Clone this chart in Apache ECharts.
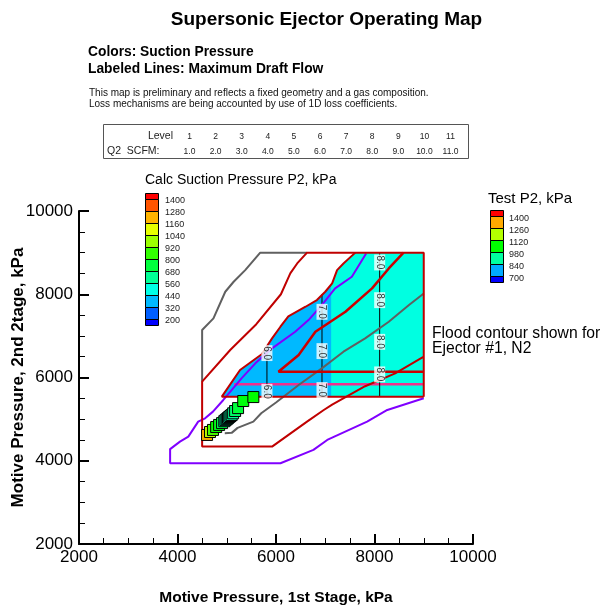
<!DOCTYPE html>
<html><head><meta charset="utf-8">
<script src="https://cdn.jsdelivr.net/npm/echarts@6/dist/echarts.min.js"></script>
<style>html,body{margin:0;padding:0;background:#fff}#c{width:602px;height:609px}</style>
</head><body><div id="c"></div>
<script>
// ---------------- DATA ----------------
// Calc suction pressure filled region (left edge from bottom-left corner to top)
const fillLeftEdge = [[4900,5540],[5270,6180],[5710,6560],[5920,6940],[6090,7220],[6250,7470],[6600,7700],[6830,7860],[7000,8060],[7140,8260],[7240,8580],[7370,8740],[7610,9000]];
const fillTopRight = [9000,9000];
const fillBottomRight = [9000,5540];
const bandSplitX = 7120; // 320-440 band (blue) left of it, 440-560 band (cyan) right

// Red boundary lines
const redOuter = [[9000,6500],[8420,6100],[7810,5790],[7140,5350],[6970,5220],[6630,4940],[5920,4340],[4500,4340],[4500,5900],[5070,6660],[5600,7280],[6100,8000],[6290,8500],[6430,8740],[6630,9000],[9000,9000],[9000,5540]];
const redInner = [[9000,6140],[6050,6140],[6460,6540],[6800,7100],[7410,7580],[7950,8140],[8290,8620],[8590,9000]];
const redFillBottom = [[9000,5540],[4900,5540]];

// Gray lines
const grayOuter = [[6630,9000],[5680,9000],[5375,8580],[5140,8300],[4970,8060],[4730,7420],[4500,7140],[4500,5900]];
const grayInner = [[4960,4660],[5100,4670],[5220,4790],[5540,4940],[5700,5140],[6000,5400],[6460,5820],[6930,6220],[7370,6620],[7810,6940],[8290,7340],[8700,7740],[9000,8020]];

// Purple flood contour
const purpleFlood = [[9000,5500],[8260,5220],[7850,4940],[7040,4500],[6760,4260],[6090,3940],[3850,3940],[3850,4280],[4050,4460],[4220,4580],[4420,4940],[4560,5020],[4720,5180],[4930,5460],[5000,5560],[5300,5980],[5580,6340],[5920,6700],[6390,7100],[6660,7380],[6930,7740],[7200,8140],[7540,8420],[7830,8980]];

// Pink line
const pinkLine = [[5150,5835],[9000,5835]];

// Maximum draft flow contour lines (labeled)
const draft6 = [[5816,5540],[5816,6700]];
const draft7 = [[6934,5540],[6934,8000]];
const draft8 = [[8105,5540],[8105,9000]];
const draftLabels = [[5816,5657,'6.0'],[5816,6586,'6.0'],[6934,5698,'7.0'],[6934,6634,'7.0'],[6934,7578,'7.0'],[8105,6075,'8.0'],[8105,6857,'8.0'],[8105,7858,'8.0'],[8105,8764,'8.0']];

// Test points
const testX  = [4600,4660,4720,4785,4845,4905,4950,4975,5000,5025,5050,5075,5100,5130,5170,5230,5335,5540];
const testY  = [4620,4690,4740,4810,4860,4905,4950,4975,5000,5025,5050,5075,5100,5140,5195,5265,5435,5530];
const testP2 = [1320,1200,1110,1060,1030,980,900,890,880,880,890,900,910,920,960,1000,1040,1050];

// Legends
const calcLevels = [1400,1280,1160,1040,920,800,680,560,440,320,200];
const calcColors = ['#ff0000','#ff5500','#ffb400','#e6ff00','#9bff00','#32ff00','#00ff3c','#00ff96','#00ffe6','#00b9ff','#005fff','#0000ff'];
const testLevels = [1400,1260,1120,980,840,700];
const testColors = ['#ff0000','#ffaa00','#b4ff00','#00ff00','#00ffa0','#00aaff','#0000ff'];
const testStops = [630,770,910,1050,1190,1330,1470];

// Level table
const levelNums = [1,2,3,4,5,6,7,8,9,10,11];
const q2Scfm = [1.0,2.0,3.0,4.0,5.0,6.0,7.0,8.0,9.0,10.0,11.0];

// ---------------- HELPERS ----------------
const FONT = 'Liberation Sans, Arial, sans-serif';
function hex(c){return [parseInt(c.substr(1,2),16),parseInt(c.substr(3,2),16),parseInt(c.substr(5,2),16)];}
function colorFor(v){
  const cols = testColors.slice().reverse();
  if (v <= testStops[0]) return cols[0];
  for (let i=0;i<testStops.length-1;i++){
    if (v <= testStops[i+1]){
      const t=(v-testStops[i])/(testStops[i+1]-testStops[i]);
      const a=hex(cols[i]), b=hex(cols[i+1]);
      return 'rgb('+a.map((x,k)=>Math.round(x+(b[k]-x)*t)).join(',')+')';
    }
  }
  return cols[cols.length-1];
}
function polySeries(points, color, z){
  return {type:'custom', coordinateSystem:'cartesian2d', silent:true, z:z, animation:false,
    data: points,
    renderItem: function(params, api){
      if (params.dataIndex !== 0) return null;
      return {type:'polygon', shape:{points: points.map(p=>api.coord(p))}, style:{fill:color, stroke:null}};
    }};
}
function lineSeries(data, color, width, z){
  return {type:'line', data:data, symbol:'none', showSymbol:false, silent:true, animation:false, z:z,
    lineStyle:{color:color, width:width}};
}

const fillPoly = fillLeftEdge.concat([fillTopRight, fillBottomRight]);
// blue band polygon: clip left edge at bandSplitX
const bluePoly = [];
for (let i=0;i<fillLeftEdge.length;i++){
  const p=fillLeftEdge[i];
  if (p[0] <= bandSplitX) bluePoly.push(p);
  else { const q=fillLeftEdge[i-1]; const t=(bandSplitX-q[0])/(p[0]-q[0]); bluePoly.push([bandSplitX, q[1]+t*(p[1]-q[1])]); break; }
}
bluePoly.push([bandSplitX, fillLeftEdge[0][1]]);
const redFillEdge = redFillBottom.concat(fillLeftEdge.slice(1));

// ---------------- GRAPHICS ----------------
const g = [];
function txt(x,y,text,font,align,valign,fill){
  g.push({type:'text', x:x, y:y, silent:true, style:{text:text, font:font, fill:fill||'#000', align:align||'left', verticalAlign:valign||'middle'}});
}
txt(326.5,20,'Supersonic Ejector Operating Map','bold 19px '+FONT,'center');
txt(88,52,'Colors: Suction Pressure','bold 13.8px '+FONT);
txt(88,69,'Labeled Lines: Maximum Draft Flow','bold 13.8px '+FONT);
txt(89,93,'This map is preliminary and reflects a fixed geometry and a gas composition.','10px '+FONT,'left','middle','#111');
txt(89,104,'Loss mechanisms are being accounted by use of 1D loss coefficients.','10px '+FONT,'left','middle','#111');
// level table
g.push({type:'rect', silent:true, shape:{x:103.5,y:124.5,width:365,height:34}, style:{fill:'none', stroke:'#555', lineWidth:1}});
txt(173,136.5,'Level','10.5px '+FONT,'right','middle','#222');
txt(107,151.5,'Q2  SCFM:','10.5px '+FONT,'left','middle','#222');
levelNums.forEach((n,i)=>{
  const cx = 189.5 + 26.1*i;
  txt(cx,137,String(n),'8.5px '+FONT,'center','middle','#222');
  txt(cx,152,q2Scfm[i].toFixed(1),'8.5px '+FONT,'center','middle','#222');
});
// calc legend
txt(145,180,'Calc Suction Pressure P2, kPa','14px '+FONT);
(function(){
  const x=145,w=13,top=193,step=12,half=6;
  let y=top;
  calcColors.forEach((c,i)=>{
    const h=(i===0||i===calcColors.length-1)?half:step;
    g.push({type:'rect', silent:true, shape:{x:x+0.5,y:y+0.5,width:w,height:h}, style:{fill:c, stroke:'#000', lineWidth:1}});
    y+=h;
  });
  calcLevels.forEach((v,i)=>txt(165, top+half+step*i+1.5, String(v), '9px '+FONT,'left','middle','#222'));
})();
// test legend
txt(488,199,'Test P2, kPa','15px '+FONT);
(function(){
  const x=490,w=13,top=210,step=12,half=6;
  let y=top;
  testColors.forEach((c,i)=>{
    const h=(i===0||i===testColors.length-1)?half:step;
    g.push({type:'rect', silent:true, shape:{x:x+0.5,y:y+0.5,width:w,height:h}, style:{fill:c, stroke:'#000', lineWidth:1}});
    y+=h;
  });
  testLevels.forEach((v,i)=>txt(509, top+half+step*i+2.5, String(v), '9px '+FONT,'left','middle','#222'));
})();
txt(432,334,'Flood contour shown for','15.7px '+FONT);
txt(432,349,'Ejector #1, N2','15.7px '+FONT);

// ---------------- CHART ----------------
const chart = echarts.init(document.getElementById('c'), null, {renderer:'canvas'});
const axisCommon = {
  type:'value', interval:2000, min:2000, max:10000,
  axisLine:{show:true, onZero:false, lineStyle:{color:'#000', width:2}},
  axisTick:{show:true, inside:true, length:10, lineStyle:{color:'#000', width:2}},
  minorTick:{show:true, splitNumber:4, length:6, lineStyle:{color:'#000', width:1}},
  splitLine:{show:false}, minorSplitLine:{show:false},
  nameMoveOverlap:false
};
chart.setOption({
  animation:false,
  backgroundColor:'#fff',
  textStyle:{fontFamily:FONT},
  grid:{left:79, top:211, width:394, height:333, containLabel:false, outerBoundsMode:'none'},
  xAxis: Object.assign({}, axisCommon, {
    position:'bottom',
    axisLabel:{color:'#000', fontSize:17, margin:5, fontFamily:FONT, formatter:v=>String(v)},
    name:'Motive Pressure, 1st Stage, kPa', nameLocation:'middle', nameGap:46,
    nameTextStyle:{fontWeight:'bold', fontSize:15.5, color:'#000', fontFamily:FONT}
  }),
  yAxis: Object.assign({}, axisCommon, {
    position:'left',
    axisLabel:{color:'#000', fontSize:17, margin:6, fontFamily:FONT, formatter:v=>String(v)},
    name:'Motive Pressure, 2nd 2tage, kPa', nameLocation:'middle', nameGap:52, nameRotate:90,
    nameTextStyle:{fontWeight:'bold', fontSize:17, color:'#000', fontFamily:FONT}
  }),
  graphic: g,
  series: [
    polySeries(fillPoly, '#00ffe1', 1),
    polySeries(bluePoly, '#00b9ff', 2),
    lineSeries(pinkLine, '#f0308c', 2.5, 3),
    lineSeries(draft6, '#000', 1, 4),
    lineSeries(draft7, '#000', 1, 4),
    lineSeries(draft8, '#000', 1, 4),
    lineSeries(grayOuter, '#606060', 2, 5),
    lineSeries(grayInner, '#606060', 2, 5),
    lineSeries(purpleFlood, '#8000ff', 2, 5),
    lineSeries(redOuter, '#c00000', 2, 6),
    lineSeries(redInner, '#cc0000', 2.5, 6),
    lineSeries(redFillEdge, '#c00000', 2, 6),
    {type:'scatter', silent:true, animation:false, z:7, symbol:'rect', symbolSize:0.1,
      itemStyle:{color:'rgba(0,0,0,0)'},
      data: draftLabels,
      label:{show:true, position:'inside', formatter:p=>p.value[2], rotate:-90, backgroundColor:'#fff', padding:[1,1,0,1], fontSize:10, color:'#000', fontFamily:FONT}},
    {type:'scatter', silent:true, animation:false, z:8, symbol:'rect', symbolSize:11,
      data: testX.map((x,i)=>[x,testY[i],testP2[i]]),
      itemStyle:{color:p=>colorFor(p.value[2]), borderColor:'#000', borderWidth:1, opacity:1}}
  ]
});
</script></body></html>
